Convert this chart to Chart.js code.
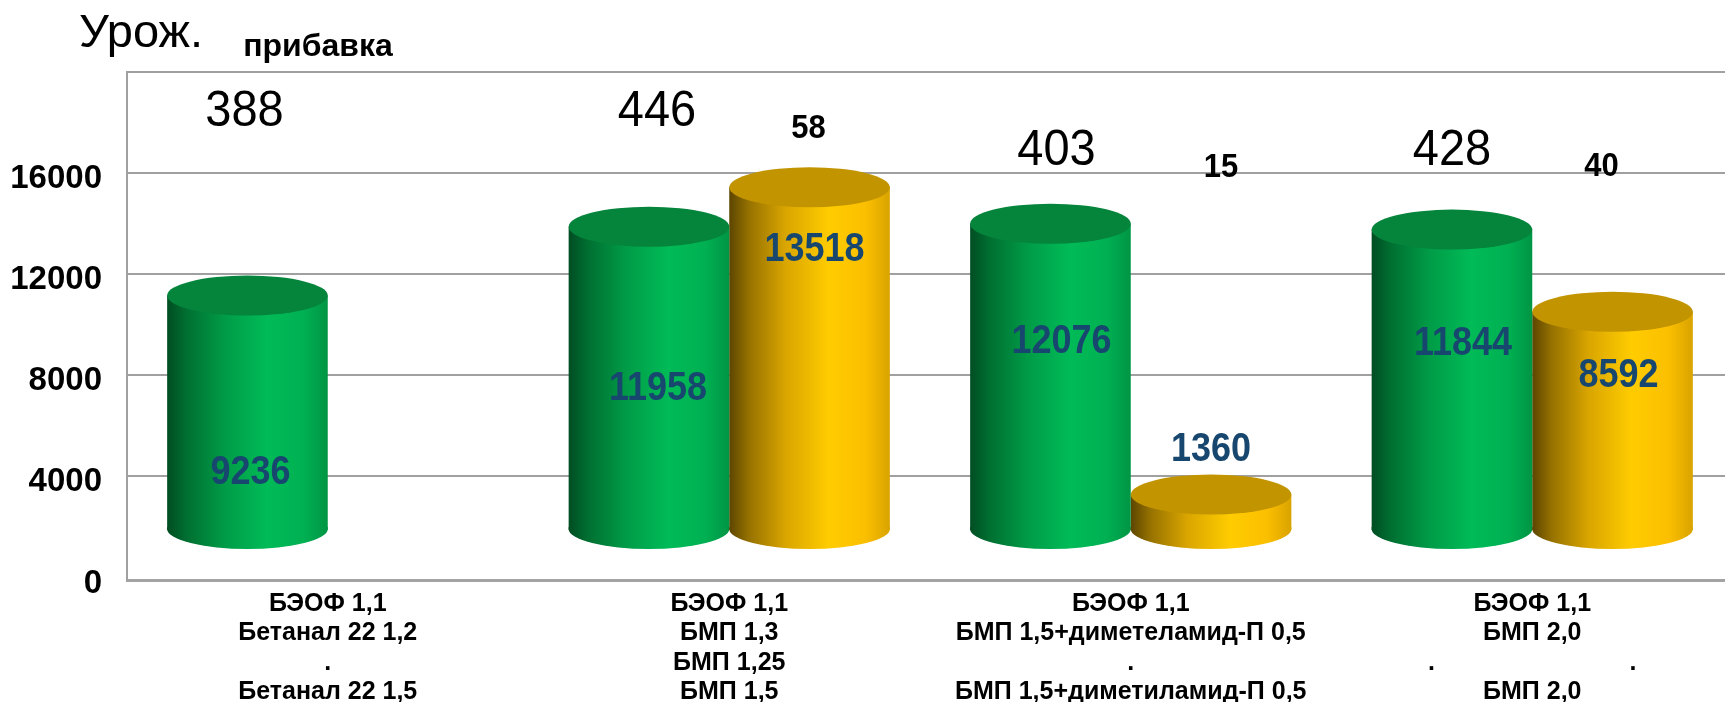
<!DOCTYPE html>
<html><head><meta charset="utf-8">
<script src="https://cdn.jsdelivr.net/npm/chart.js@4"></script>
<style>html,body{margin:0;padding:0;background:#fff;overflow:hidden;width:1725px;height:702px}canvas{display:block}</style>
</head><body><canvas id="c" width="1733" height="702"></canvas>
<script>
const categories = [
  ["БЭОФ 1,1","Бетанал 22 1,2",".","Бетанал 22 1,5"],
  ["БЭОФ 1,1","БМП 1,3","БМП 1,25","БМП 1,5"],
  ["БЭОФ 1,1","БМП 1,5+диметеламид-П 0,5",".","БМП 1,5+диметиламид-П 0,5"],
  ["БЭОФ 1,1","БМП 2,0",".                            .","БМП 2,0"]
];
const greenValues = [9236, 11958, 12076, 11844];
const yellowValues = [null, 13518, 1360, 8592];
const yieldLabels = [388, 446, 403, 428];
const gainLabels = [null, 58, 15, 40];
const tickValues = [0, 4000, 8000, 12000, 16000];
const cylinderFloor = 1920; // the drawn 3D floor sits above the axis zero

// text anchors: [pixel shift from the bar centre, axis value]
const greenLabelAt = [[3,4138],[9,7470],[11,9320],[11,9237]];
const yellowLabelAt = [null,[5,12960],[0,5063],[6,7960]];
const yieldLabelAt = [[-3,18420],[8,18420],[6,16870],[0,16870]];
const gainLabelAt = [null,[-1,17745],[10,16210],[-11,16250]];

const FONT = '"Liberation Sans", Arial, sans-serif';
function gradient(ctx, chart, i, ds, stops){
  const x = chart.scales.x;
  const step = x.getPixelForTick(1) - x.getPixelForTick(0);
  const w = step * 0.4, c = x.getPixelForTick(i);
  const l = ds === 0 ? c - w : c;
  const g = chart.ctx.createLinearGradient(l, 0, l + w, 0);
  stops.forEach(s => g.addColorStop(s[0], s[1]));
  return g;
}
const greenStops = [[0,'#004d22'],[0.12,'#006f31'],[0.35,'#009a46'],[0.62,'#00bb57'],[0.85,'#00b052'],[1,'#009544']];
const yellowStops = [[0,'#5c4500'],[0.12,'#957100'],[0.35,'#d9a500'],[0.62,'#ffcc00'],[0.85,'#fbbf00'],[1,'#d9a300']];
const palette = [
  {stops: greenStops, top: '#05843c'},
  {stops: yellowStops, top: '#c29400'}
];

const cylinderPlugin = {
  id: 'cylinder',
  afterDatasetsDraw(chart){
    const ctx = chart.ctx, ry = 20;
    chart.data.datasets.forEach((ds, di) => {
      chart.getDatasetMeta(di).data.forEach((el, i) => {
        if (ds.data[i] === null) return;
        const p = el.getProps(['x','y','base','width'], true);
        const rx = p.width / 2;
        ctx.save();
        ctx.fillStyle = gradient(ctx, chart, i, di, palette[di].stops);
        ctx.beginPath();
        ctx.rect(p.x - rx, p.base - 2, rx * 2, 3);
        ctx.fill();
        ctx.beginPath();
        ctx.ellipse(p.x, p.base, rx, ry, 0, 0, Math.PI);
        ctx.fill();
        ctx.fillStyle = palette[di].top;
        ctx.beginPath();
        ctx.ellipse(p.x, p.y, rx, ry, 0, 0, Math.PI * 2);
        ctx.fill();
        ctx.restore();
      });
    });
  }
};

const textPlugin = {
  id: 'texts',
  afterDraw(chart){
    const ctx = chart.ctx, y = chart.scales.y;
    ctx.save();
    ctx.textAlign = 'center';
    ctx.textBaseline = 'middle';
    const put = (txt, di, i, at, font, color, stretch) => {
      if (at === null || txt === null) return;
      const el = chart.getDatasetMeta(di).data[i];
      ctx.save();
      ctx.font = font;
      ctx.fillStyle = color;
      ctx.translate(el.x + at[0], y.getPixelForValue(at[1]));
      ctx.scale(1, stretch);
      ctx.fillText(String(txt), 0, 0);
      ctx.restore();
    };
    categories.forEach((_, i) => {
      put(greenValues[i], 0, i, greenLabelAt[i], 'bold 36px ' + FONT, '#17476f', 1.12);
      put(yellowValues[i], 1, i, yellowLabelAt[i], 'bold 36px ' + FONT, '#17476f', 1.12);
      put(yieldLabels[i], 0, i, yieldLabelAt[i], '47px ' + FONT, '#000', 1.05);
      put(gainLabels[i], 1, i, gainLabelAt[i], 'bold 31px ' + FONT, '#000', 1.1);
    });
    ctx.font = '47px ' + FONT;
    ctx.fillStyle = '#000';
    ctx.fillText('Урож.', 141, 34);
    ctx.font = 'bold 32px ' + FONT;
    ctx.fillText('прибавка', 318, 47);
    ctx.restore();
  }
};

new Chart(document.getElementById('c'), {
  type: 'bar',
  data: {
    labels: categories,
    datasets: [
      { label: 'Урож.', data: greenValues.map(v => [cylinderFloor, cylinderFloor + v]),
        backgroundColor: c => gradient(c.chart.ctx, c.chart, c.dataIndex, 0, greenStops) },
      { label: 'прибавка', data: yellowValues.map(v => v === null ? null : [cylinderFloor, cylinderFloor + v]),
        backgroundColor: c => gradient(c.chart.ctx, c.chart, c.dataIndex, 1, yellowStops) }
    ]
  },
  plugins: [cylinderPlugin, textPlugin],
  options: {
    responsive: false,
    animation: false,
    devicePixelRatio: 1,
    layout: { padding: { top: 72, left: 0, right: 0, bottom: 0 } },
    plugins: { legend: { display: false }, tooltip: { enabled: false }, title: { display: false } },
    datasets: { bar: { categoryPercentage: 0.8, barPercentage: 1, borderWidth: 0, borderSkipped: false } },
    scales: {
      x: {
        afterFit: s => { s.height = 122; },
        grid: { display: false, drawTicks: false },
        border: { color: '#a3a3a3', width: 3 },
        ticks: { color: '#000', font: { family: FONT, weight: 'bold', size: 25, lineHeight: 1.18 }, padding: 9, maxRotation: 0, autoSkip: false }
      },
      y: {
        min: -100, max: 20000,
        afterFit: s => { s.width = 127; },
        afterBuildTicks: s => { s.ticks = tickValues.concat([20000]).map(v => ({ value: v })); },
        grid: { color: c => (c.tick && c.tick.value === 0) ? 'rgba(0,0,0,0)' : '#a0a0a0', lineWidth: 2, drawTicks: false },
        border: { color: '#a0a0a0', width: 2 },
        ticks: { color: '#000', font: { family: FONT, weight: 'bold', size: 33 }, padding: 25,
          labelOffset: 6,
          callback: v => tickValues.includes(v) ? String(v) : '' }
      }
    }
  }
});
</script></body></html>
